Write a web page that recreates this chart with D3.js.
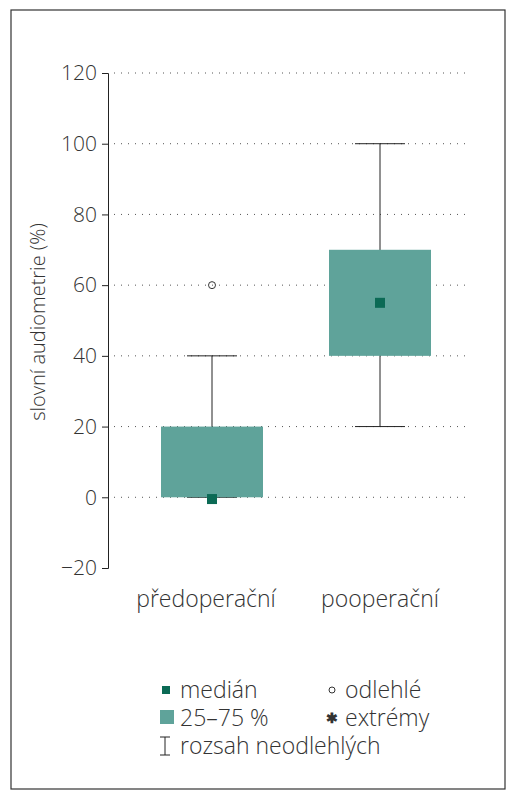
<!DOCTYPE html><html><head><meta charset="utf-8"><script src="https://cdn.jsdelivr.net/npm/d3@7"></script>
<style>body{margin:0;background:#fff}text{font-family:"Open Sans",sans-serif;font-weight:300;fill:#333}</style></head><body><svg id="c" width="514" height="800"></svg><script>
const categories=["předoperační","pooperační"];
const q1=[0,40],q3=[20,70],median=[-0.5,55],whiskLo=[0,20],whiskHi=[40,100];
const outliers=[[0,60]];
const ticks=[-20,0,20,40,60,80,100,120];
const svg=d3.select("#c");
const teal="#5fa39a",dark="#0b6a55";
svg.append("rect").attr("x",11).attr("y",10).attr("width",494).attr("height",779).attr("fill","none").attr("stroke","#333").attr("stroke-width",1.2);
const y=d3.scaleLinear().domain([-20,120]).range([568,73]);
const x=d3.scalePoint().domain(categories).range([212,380]);
const bw=102;
const ax=svg.append("g").attr("transform","translate(108,0)").call(d3.axisLeft(y).tickValues(ticks).tickSize(6).tickFormat(d=>d<0?"\u2212"+(-d):d));
ax.select(".domain").attr("stroke","#222");ax.selectAll("line").attr("stroke","#222");
ax.selectAll("text").style("font-size","21px").attr("dx","-2");
svg.selectAll(".g").data(ticks.filter(t=>t>=0)).enter().append("line").attr("x1",114).attr("x2",470).attr("y1",d=>y(d)).attr("y2",d=>y(d)).attr("stroke","#555").attr("stroke-dasharray","1,6");
svg.append("text").attr("transform","translate(45,322) rotate(-90)").attr("text-anchor","middle").style("font-size","20px").text("slovní audiometrie (%)");
categories.forEach((c,i)=>{const cx=x(c);
 svg.append("line").attr("x1",cx).attr("x2",cx).attr("y1",y(whiskHi[i])).attr("y2",y(whiskLo[i])).attr("stroke","#222");
 [whiskHi[i],whiskLo[i]].forEach(v=>svg.append("line").attr("x1",cx-25).attr("x2",cx+25).attr("y1",y(v)).attr("y2",y(v)).attr("stroke","#222"));
 svg.append("rect").attr("x",cx-bw/2).attr("width",bw).attr("y",y(q3[i])).attr("height",y(q1[i])-y(q3[i])).attr("fill",teal);
 svg.append("rect").attr("x",cx-5).attr("y",y(median[i])-5).attr("width",10).attr("height",10).attr("fill",dark);
 svg.append("text").attr("x",cx-6*(1-i)+(i?0:0)).attr("y",607).attr("text-anchor","middle").style("font-size","23px").text(c);
});
outliers.forEach(([i,v])=>{svg.append("circle").attr("cx",x(categories[i])).attr("cy",y(v)).attr("r",3.5).attr("fill","none").attr("stroke","#333");});
const L=svg.append("g"),fs="23px";
L.append("rect").attr("x",162).attr("y",686).attr("width",8).attr("height",8).attr("fill",dark);
L.append("text").attr("x",180).attr("y",698).style("font-size",fs).text("medián");
L.append("rect").attr("x",160).attr("y",710).attr("width",14).attr("height",14).attr("fill",teal);
L.append("text").attr("x",180).attr("y",726).style("font-size",fs).text("25–75 %");
L.append("path").attr("d","M160,737H170M165,737V755M160,755H170").attr("stroke","#222").attr("fill","none");
L.append("text").attr("x",180).attr("y",754).style("font-size",fs).text("rozsah neodlehlých");
L.append("circle").attr("cx",332).attr("cy",690).attr("r",3).attr("fill","none").attr("stroke","#333");
L.append("text").attr("x",345).attr("y",698).style("font-size",fs).text("odlehlé");
L.append("text").attr("x",332).attr("y",723).attr("text-anchor","middle").style("font-size","14px").style("font-weight","700").text("✱");
L.append("text").attr("x",345).attr("y",726).style("font-size",fs).text("extrémy");
</script></body></html>
